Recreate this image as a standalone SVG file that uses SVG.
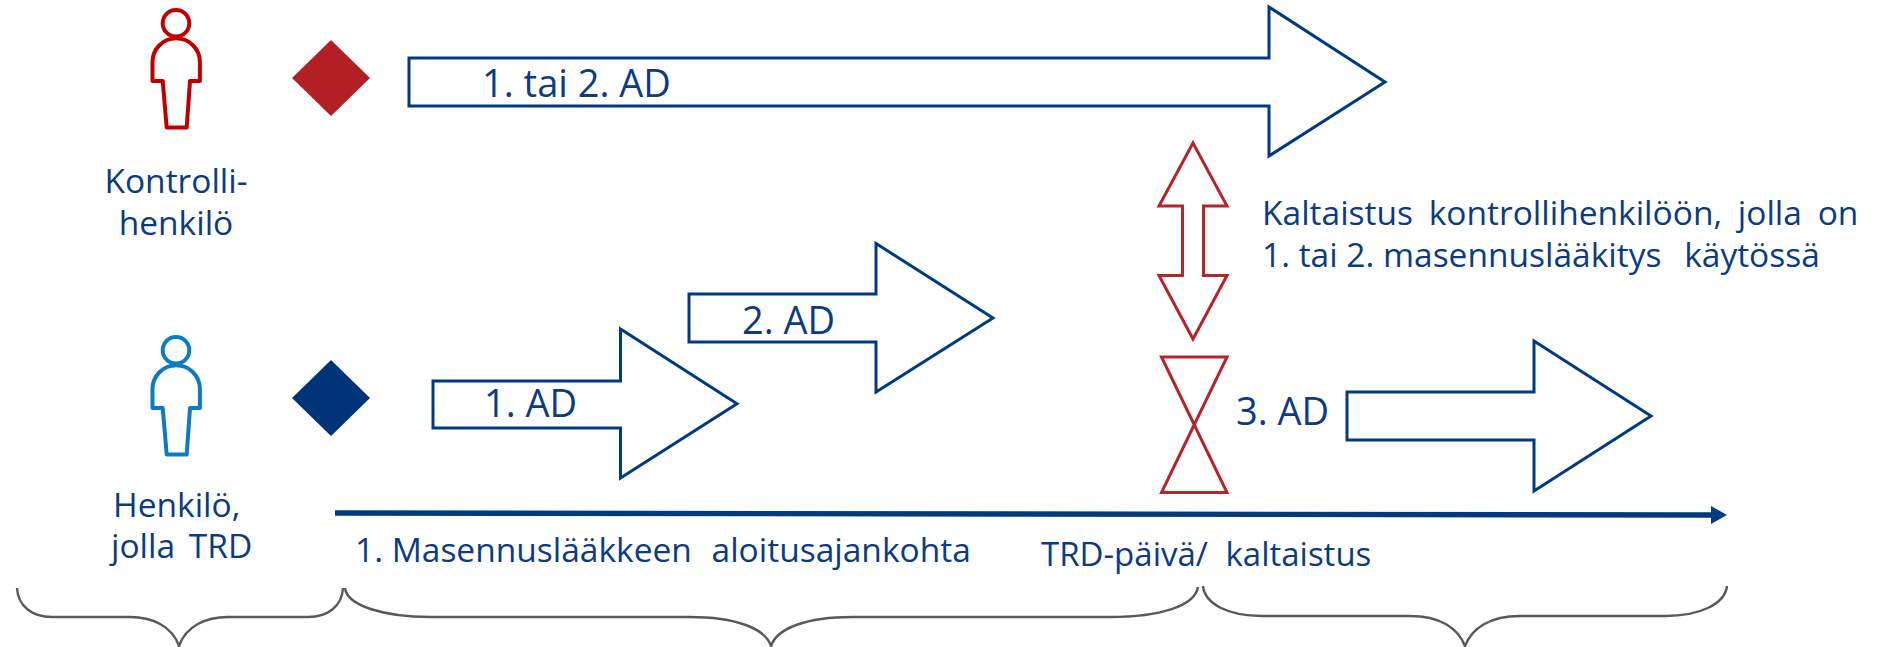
<svg xmlns="http://www.w3.org/2000/svg" width="1888" height="647" viewBox="0 0 1888 647">
<style>
text{font-family:"Open Sans","Noto Sans",sans-serif;font-size:33.5px;fill:#0b3b80}
.big{font-size:38px}
.ar{fill:#fff;stroke:#023a80;stroke-width:3;stroke-miterlimit:10}
.rd{fill:#fff;stroke:#b5232b;stroke-width:3;stroke-miterlimit:10}
.br{fill:none;stroke:#595959;stroke-width:2.4}
.p{fill:#fff;stroke-width:4}
</style>
<defs><marker id="tip" markerUnits="userSpaceOnUse" markerWidth="16" markerHeight="18" refX="0" refY="9" orient="auto"><path d="M0 0 16 9 0 18Z" fill="#023a80"/></marker></defs>
<rect width="1888" height="647" fill="#fff"/>
<g id="control-person" class="p" stroke="#c00000">
<circle cx="176" cy="23.3" r="13.3"/>
<path d="M152.5 81V62A23.7 23.7 0 0 1 199.9 62V81H190L186.7 127.6H166.7L162.7 81Z" stroke-linejoin="round"/>
<text x="176" y="193" text-anchor="middle" stroke="none">Kontrolli-</text>
<text x="176" y="235" text-anchor="middle" stroke="none">henkilö</text>
</g>
<g id="trd-person" class="p" stroke="#0b7cc1">
<circle cx="176" cy="350.3" r="13.3"/>
<path d="M152.5 408V389A23.7 23.7 0 0 1 199.9 389V408H190L186.7 454.6H166.7L162.7 408Z" stroke-linejoin="round"/>
<text x="113" y="517" stroke="none">Henkilö,</text>
<text x="111" y="558" stroke="none" style="word-spacing:5px">jolla TRD</text>
</g>
<g id="diamond-control"><path d="M331 40 370 78 331 116 292 78Z" fill="#b22025"/></g>
<g id="diamond-trd"><path d="M331 360 370 398 331 436 292 398Z" fill="#003478"/></g>
<g id="arrow-1-2-ad"><path class="ar" d="M409 58H1269V7L1385 82 1269 156V106H409Z"/><text class="big" x="482" y="97">1. tai 2. AD</text></g>
<g id="arrow-1-ad"><path class="ar" d="M433 381H620.5V329L737 403.7 620.5 478V428H433Z"/><text class="big" x="484" y="417">1. AD</text></g>
<g id="arrow-2-ad"><path class="ar" d="M689 294H876V243.5L993 318 876 392V342H689Z"/><text class="big" x="742" y="334">2. AD</text></g>
<g id="arrow-3-ad"><path class="ar" d="M1347 392H1534V341L1651 416 1534 491V440H1347Z"/><text class="big" x="1236" y="425">3. AD</text></g>
<g id="matching-arrow"><path class="rd" d="M1193 143 1227 206H1203.5V275.5H1227L1193 339 1159 275.5H1182.5V206H1159Z"/></g>
<g id="matching-hourglass"><path class="rd" d="M1161.5 357H1227L1161.5 492.5H1227Z"/></g>
<g id="matching-text">
<text x="1262" y="225" style="word-spacing:7px">Kaltaistus kontrollihenkilöön, jolla on</text>
<text x="1262" y="267">1. tai 2. masennuslääkitys <tspan dx="14">käytössä</tspan></text>
</g>
<g id="timeline-labels">
<text x="355" y="562">1. Masennuslääkkeen <tspan dx="11">aloitusajankohta</tspan></text>
<text x="1041" y="566" style="font-size:33px;word-spacing:9px">TRD-päivä/ kaltaistus</text>
</g>
<g id="connectors">
<path d="M335 513 1711 515" fill="none" stroke="#023a80" stroke-width="5.4" marker-end="url(#tip)"/>
<path class="br" d="M17 588C18 606 32 617 52 617H130C152 617 172 626 179 646C186 626 206 617 228 617H308C328 617 342 606 343 588"/>
<path class="br" d="M345 588C347 606 385 617 430 617H690C735 617 765 628 771 646C777 628 807 617 852 617H1110C1160 617 1195 606 1198 587"/>
<path class="br" d="M1203 586C1205 604 1228 616 1262 616H1410C1440 616 1458 628 1465 646C1472 628 1490 616 1520 616H1665C1700 616 1725 604 1727 586"/>
</g>
</svg>
